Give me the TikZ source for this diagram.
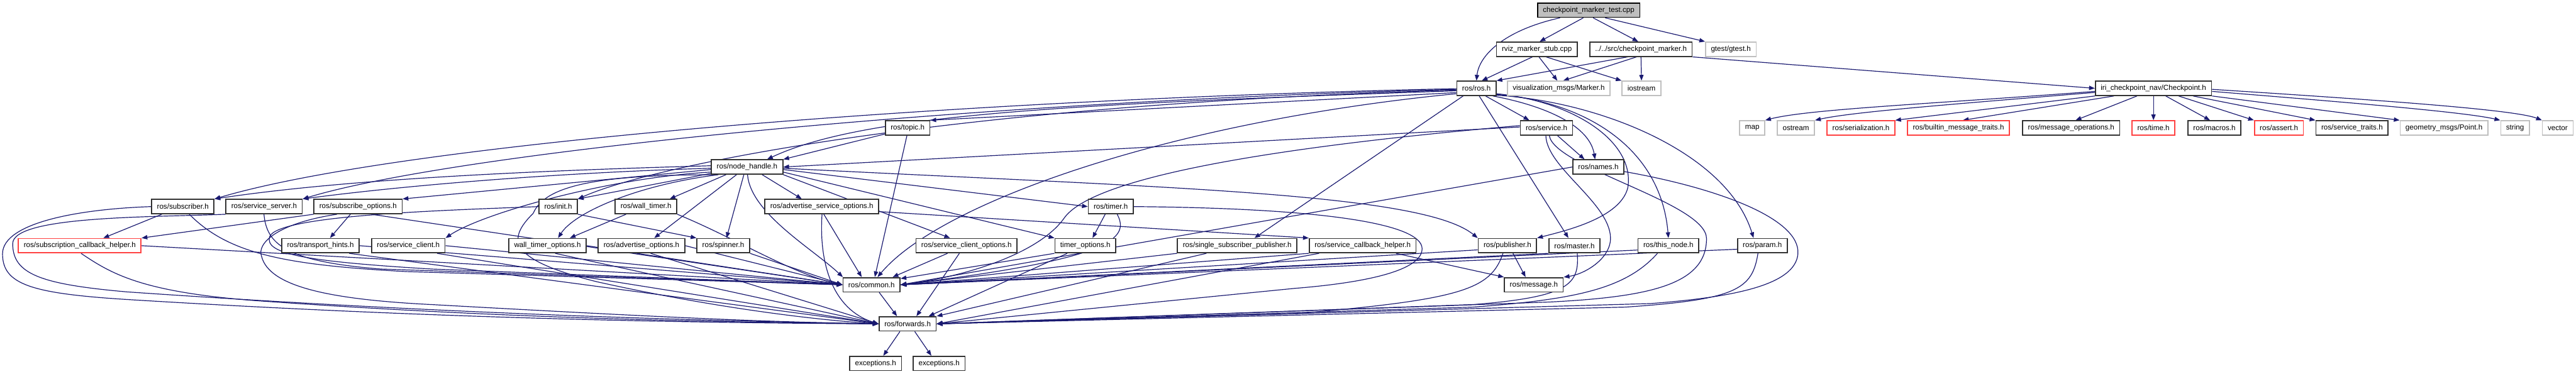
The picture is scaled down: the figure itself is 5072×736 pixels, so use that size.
\documentclass[tikz,border=0pt]{standalone}
\usepackage{fontspec}
\setmainfont{Liberation Sans}
\usetikzlibrary{arrows.meta}
\pgfdeclarelayer{bg}
\pgfsetlayers{bg,main}
\definecolor{edgec}{RGB}{25,25,112}
\definecolor{redb}{RGB}{255,64,64}
\definecolor{grayb}{RGB}{191,191,191}
\definecolor{topfill}{RGB}{191,191,191}
\definecolor{blkb}{RGB}{50,50,50}
\begin{document}
\begin{tikzpicture}[x=0.01cm,y=-0.01cm,
  nd/.style={draw=blkb, line width=0.6pt, fill=white, inner xsep=3pt, inner ysep=0pt, minimum height=8pt, font=\fontsize{4.1pt}{5pt}\selectfont},
  gnd/.style={nd, draw=grayb},
  rnd/.style={nd, draw=redb},
  tnd/.style={nd, draw=black, fill=topfill},
  ed/.style={draw=edgec, line width=0.42pt, -{Triangle[length=3.2pt,width=2.4pt]}}
]
\useasboundingbox (0,0) rectangle (5072,736);
% row 0-2
\node[tnd] (test) at (3128,20) {checkpoint\_marker\_test.cpp};
\node[nd] (rviz) at (3026,97) {rviz\_marker\_stub.cpp};
\node[nd] (cm) at (3231,97) {../../src/checkpoint\_marker.h};
\node[gnd] (gtest) at (3408,97) {gtest/gtest.h};
\node[nd] (ros) at (2907,174) {ros/ros.h};
\node[gnd] (marker) at (3069,174) {visualization\_msgs/Marker.h};
\node[gnd] (iostream) at (3232,174) {iostream};
\node[nd] (cp) at (4240,174) {iri\_checkpoint\_nav/Checkpoint.h};
% row 3
\node[nd] (topic) at (1787,252) {ros/topic.h};
\node[nd] (service) at (3045,252) {ros/service.h};
\node[gnd] (map) at (3450,252) {map};
\node[gnd] (ostream) at (3536,252) {ostream};
\node[rnd] (serial) at (3664,252) {ros/serialization.h};
\node[rnd] (bmt) at (3856,252) {ros/builtin\_message\_traits.h};
\node[nd] (mo) at (4078,252) {ros/message\_operations.h};
\node[rnd] (time) at (4240,252) {ros/time.h};
\node[nd] (macros) at (4360,252) {ros/macros.h};
\node[rnd] (assert) at (4487,252) {ros/assert.h};
\node[nd] (st) at (4631,252) {ros/service\_traits.h};
\node[gnd] (point) at (4812,252) {geometry\_msgs/Point.h};
\node[gnd] (string) at (4952,252) {string};
\node[gnd] (vector) at (5036,252) {vector};
% row 4
\node[nd] (nh) at (1471,329) {ros/node\_handle.h};
\node[nd] (names) at (3147,329) {ros/names.h};
% row 5
\node[nd] (sub) at (360,407) {ros/subscriber.h};
\node[nd] (ss) at (520,407) {ros/service\_server.h};
\node[nd] (so) at (705,407) {ros/subscribe\_options.h};
\node[nd] (init) at (1099,407) {ros/init.h};
\node[nd] (wt) at (1272,407) {ros/wall\_timer.h};
\node[nd] (aso) at (1618,407) {ros/advertise\_service\_options.h};
\node[nd] (timer) at (2187,407) {ros/timer.h};
% row 6
\node[rnd] (sch) at (157,484) {ros/subscription\_callback\_helper.h};
\node[nd] (th) at (631,484) {ros/transport\_hints.h};
\node[nd] (sc) at (804,484) {ros/service\_client.h};
\node[nd] (wto) at (1078,484) {wall\_timer\_options.h};
\node[nd] (ao) at (1263,484) {ros/advertise\_options.h};
\node[nd] (spin) at (1424,484) {ros/spinner.h};
\node[nd] (sco) at (1903,484) {ros/service\_client\_options.h};
\node[nd] (to) at (2137,484) {timer\_options.h};
\node[nd] (ssp) at (2436,484) {ros/single\_subscriber\_publisher.h};
\node[nd] (sbh) at (2683,484) {ros/service\_callback\_helper.h};
\node[nd] (pub) at (2968,484) {ros/publisher.h};
\node[nd] (master) at (3100,484) {ros/master.h};
\node[nd] (thisn) at (3285,484) {ros/this\_node.h};
\node[nd] (param) at (3470,484) {ros/param.h};
% row 7-9
\node[nd] (common) at (1716,561) {ros/common.h};
\node[nd] (message) at (3020,561) {ros/message.h};
\node[nd] (fw) at (1787,638) {ros/forwards.h};
\node[nd] (exa) at (1724,716) {exceptions.h};
\node[nd] (exb) at (1849,716) {exceptions.h};

\begin{pgfonlayer}{bg}
% top
\draw[ed] (test.-165) .. controls (2960,60) and (2912,110) .. (ros.north);
\draw[ed] (test.-125) -- (rviz.70);
\draw[ed] (test.-60) -- (cm.110);
\draw[ed] (test.-25) -- (gtest.north west);
\draw[ed] (rviz.-120) -- (ros.55);
\draw[ed] (rviz.-75) -- (marker.100);
\draw[ed] (rviz.-40) -- (iostream.north west);
\draw[ed] (cm.-150) -- (ros.north east);
\draw[ed] (cm.-120) -- (marker.60);
\draw[ed] (cm.south) -- (iostream.north);
\draw[ed] (cm.south east) -- (cp.west);
% checkpoint
\draw[ed] (cp.-177) .. controls (3800,205) and (3560,215) .. (map.north east);
\draw[ed] (cp.-176) .. controls (3850,205) and (3650,220) .. (ostream.north east);
\draw[ed] (cp.south west) -- (serial.north east);
\draw[ed] (cp.-169) -- (bmt.60);
\draw[ed] (cp.-155) -- (mo.60);
\draw[ed] (cp.-90) -- (time.north);
\draw[ed] (cp.-32) -- (macros.120);
\draw[ed] (cp.-17) -- (assert.north west);
\draw[ed] (cp.-11) -- (st.north west);
\draw[ed] (cp.south east) -- (point.north west);
\draw[ed] (cp.-3) .. controls (4600,200) and (4850,220) .. (string.north west);
\draw[ed] (cp.-1) .. controls (4650,195) and (4950,215) .. (vector.north west);
% ros.h
\draw[ed] (ros.-179) .. controls (1900,195) and (800,280) .. (sub.north east);
\draw[ed] (ros.-177) .. controls (1900,200) and (900,300) .. (ss.north east);
\draw[ed] (ros.-175) .. controls (1900,205) and (1300,320) .. (init.north east);
\draw[ed] (ros.-173) .. controls (2100,205) and (1700,225) .. (nh.21);
\draw[ed] (ros.-168) -- (topic.north east);
\draw[ed] (ros.-165) .. controls (2300,240) and (1850,400) .. (common.52);
\draw[ed] (ros.-150) -- (ssp.24);
\draw[ed] (ros.-40) -- (service.156);
\draw[ed] (ros.-25) .. controls (3050,210) and (3130,250) .. (names.113);
\draw[ed] (ros.-15) .. controls (3100,200) and (3220,280) .. (3205,370) .. controls (3190,430) and (3080,455) .. (pub.north east);
\draw[ed] (ros.-70) -- (master.128);
\draw[ed] (ros.-17) .. controls (3120,200) and (3270,290) .. (thisn.north);
\draw[ed] (ros.-19) .. controls (3150,200) and (3400,300) .. (param.139);
% topic, service, names
\draw[ed] (topic.-165) -- (nh.north east);
\draw[ed] (topic.-95) -- (common.67);
\draw[ed] (service.178) -- (nh.east);
\draw[ed] (service.-35) -- (names.151);
\draw[ed] (service.175) .. controls (2500,290) and (2150,350) .. (2095,430) .. controls (2045,500) and (1900,545) .. (common.east);
\draw[ed] (service.-95) .. controls (3045,330) and (3170,400) .. (3171,469) .. controls (3171,510) and (3120,540) .. (message.north east);
\draw[ed] (service.-70) .. controls (3060,330) and (3360,400) .. (3360,470) .. controls (3360,560) and (3250,585) .. (3050,595) -- (fw.east);
\draw[ed] (names.west) -- (common.east);
\draw[ed] (names.-10) .. controls (3380,370) and (3545,430) .. (3540,500) .. controls (3535,560) and (3420,585) .. (3250,598) -- (fw.east);
% node_handle
\draw[ed] (nh.178) .. controls (1100,335) and (700,350) .. (sub.north east);
\draw[ed] (nh.-178) .. controls (1100,340) and (800,365) .. (ss.north east);
\draw[ed] (nh.-176) -- (so.north east);
\draw[ed] (nh.-172) .. controls (1200,350) and (950,420) .. (sc.north east);
\draw[ed] (nh.-170) -- (init.north east);
\draw[ed] (nh.-160) -- (wt.18);
\draw[ed] (nh.-165) .. controls (1250,365) and (1130,420) .. (wto.36);
\draw[ed] (nh.-144) -- (ao.31);
\draw[ed] (nh.-113) -- (spin.67);
\draw[ed] (nh.-87) .. controls (1478,420) and (1600,490) .. (common.165);
\draw[ed] (nh.-27) -- (aso.159);
\draw[ed] (nh.south east) -- (sco.155);
\draw[ed] (nh.-8) -- (to.north west);
\draw[ed] (nh.-4) -- (timer.west);
\draw[ed] (nh.-2) .. controls (2300,370) and (2800,380) .. (pub.north west);
\draw[ed] (nh.-167) .. controls (1200,345) and (1075,360) .. (1050,420) .. controls (1000,470) and (995,510) .. (1175,555) .. controls (1400,605) and (1600,630) .. (fw.west);
% left group
\draw[ed] (sub.-160) -- (sch.18);
\draw[ed] (so.south west) -- (sch.north east);
\draw[ed] (so.-135) -- (th.39);
\draw[ed] (sub.-50) .. controls (450,500) and (560,522) .. (800,535) -- (common.west);
\draw[ed] (sub.west) .. controls (150,412) and (5,440) .. (5,500) .. controls (5,560) and (60,578) .. (250,590) .. controls (900,630) and (1400,636) .. (fw.west);
\draw[ed] (ss.-91) .. controls (525,480) and (560,515) .. (750,530) -- (common.west);
\draw[ed] (ss.south west) .. controls (300,428) and (25,425) .. (25,480) .. controls (25,540) and (80,560) .. (250,575) .. controls (900,620) and (1400,632) .. (fw.west);
\draw[ed] (sch.east) -- (common.west);
\draw[ed] (sch.-80) .. controls (220,540) and (280,575) .. (500,592) .. controls (1000,628) and (1400,634) .. (fw.west);
\draw[ed] (so.-30) -- (common.west);
\draw[ed] (so.-160) .. controls (545,440) and (505,480) .. (515,505) .. controls (530,565) and (650,590) .. (850,600) .. controls (1300,625) and (1500,634) .. (fw.west);
\draw[ed] (init.west) .. controls (850,415) and (548,425) .. (531,466) .. controls (520,500) and (600,515) .. (850,530) -- (common.west);
\draw[ed] (init.south east) -- (spin.north west);
\draw[ed] (wt.-159) -- (wto.19);
\draw[ed] (wt.south east) .. controls (1450,470) and (1560,540) .. (common.west);
\draw[ed] (th.east) -- (common.west);
\draw[ed] (th.-15) -- (fw.west);
\draw[ed] (sc.east) -- (common.west);
\draw[ed] (sc.-15) -- (fw.west);
\draw[ed] (wto.east) -- (common.west);
\draw[ed] (wto.-45) -- (fw.west);
\draw[ed] (ao.east) -- (common.west);
\draw[ed] (ao.-40) -- (fw.west);
\draw[ed] (spin.south east) -- (common.west);
\draw[ed] (aso.-75) -- (common.142);
\draw[ed] (aso.-88) .. controls (1612,520) and (1640,610) .. (fw.west);
\draw[ed] (aso.-5) -- (sbh.north west);
% right group
\draw[ed] (sco.-158) -- (common.20);
\draw[ed] (sco.-133) -- (fw.41);
\draw[ed] (to.south west) -- (common.12);
\draw[ed] (to.-157) -- (fw.20);
\draw[ed] (timer.-126) -- (to.47);
\draw[ed] (timer.-50) .. controls (2225,470) and (2190,510) .. (common.east);
\draw[ed] (timer.east) .. controls (2600,410) and (2800,440) .. (2800,490) .. controls (2800,540) and (2650,560) .. (2550,568) -- (fw.east);
\draw[ed] (ssp.south west) -- (common.east);
\draw[ed] (ssp.-166) -- (fw.north east);
\draw[ed] (sbh.south west) -- (common.east);
\draw[ed] (sbh.-170) -- (fw.east);
\draw[ed] (sbh.-13) -- (message.north west);
\draw[ed] (pub.-172) -- (common.east);
\draw[ed] (pub.-54) -- (message.137);
\draw[ed] (pub.-120) .. controls (2935,570) and (2880,590) .. (2550,618) -- (fw.east);
\draw[ed] (master.south west) -- (common.east);
\draw[ed] (master.-70) .. controls (3110,560) and (3090,585) .. (2900,600) -- (fw.east);
\draw[ed] (thisn.-172) -- (common.east);
\draw[ed] (thisn.-145) .. controls (3200,570) and (3100,590) .. (2900,605) -- (fw.east);
\draw[ed] (param.-172) -- (common.east);
\draw[ed] (param.-120) .. controls (3450,570) and (3420,590) .. (3200,605) -- (fw.east);
% bottom
\draw[ed] (common.-45) -- (fw.144);
\draw[ed] (fw.-135) -- (exa.45);
\draw[ed] (fw.-47) -- (exb.135);
\end{pgfonlayer}
\end{tikzpicture}
\end{document}
